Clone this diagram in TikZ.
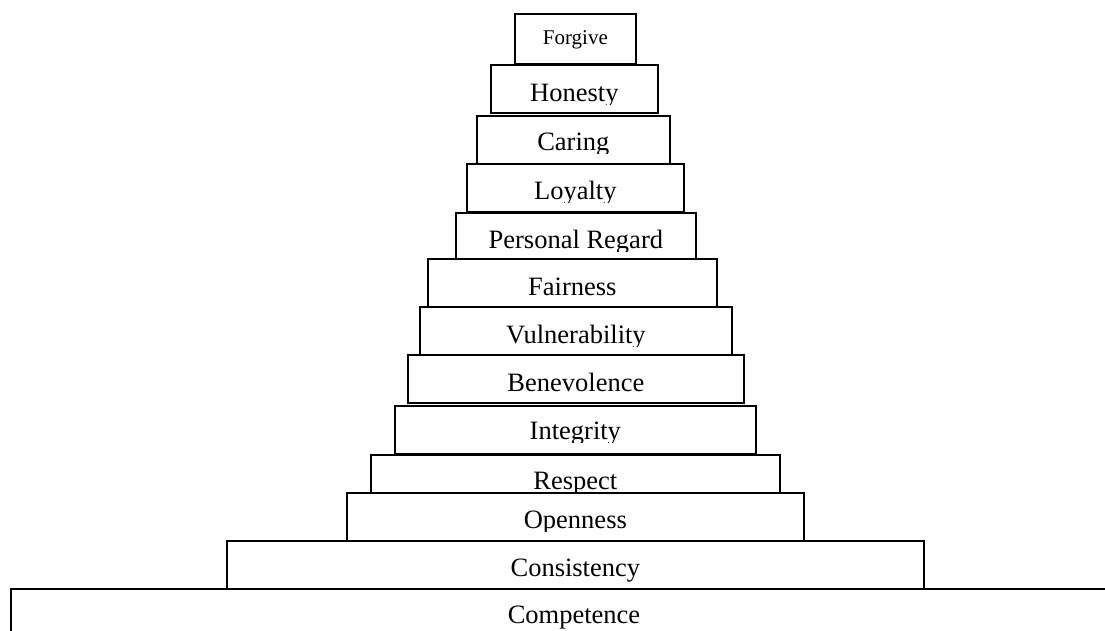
\documentclass[tikz,border=0pt]{standalone}
\usepackage{fontspec}
\setmainfont{Liberation Serif}
\usepackage{tikz}
\usetikzlibrary{positioning}
\tikzset{
  tier/.style={rectangle, draw=black, fill=white, line width=1.7pt,
               inner sep=0pt, anchor=north west},
  tiertext/.style={anchor=base, inner sep=0pt,
                   font=\fontsize{26.5}{30}\selectfont},
  toptext/.style={anchor=base, inner sep=0pt,
                  font=\fontsize{21}{25}\selectfont}
}
% label whose descenders are cut just below the baseline
\newcommand\cutlabel[4]{%
  \begin{scope}
    \clip ([yshift={(#3-2.5)*1pt}]#2.south west) rectangle (#2.north east);
    \node[tiertext] (#1) at ([yshift=#3pt]#2.south) {#4};
  \end{scope}}

\begin{document}
\begin{tikzpicture}[x=1pt, y=-1pt]
\useasboundingbox (0,0) rectangle (1105,631);
\clip (0,0) rectangle (1105,631);
% tiers, from the top down
\node[tier, minimum width=121pt, minimum height=50pt] (forgive) at (514,13) {};
\node[toptext] (forgive-txt) at ([yshift=20pt]forgive.south) {Forgive};
\node[tier, minimum width=167pt, minimum height=48pt] (honesty) at (490,64) {};
\cutlabel{honesty-txt}{honesty}{12}{Honesty}
\node[tier, minimum width=193pt, minimum height=48pt] (caring) at (476,115) {};
\cutlabel{caring-txt}{caring}{14}{Caring}
\node[tier, minimum width=217pt, minimum height=48pt] (loyalty) at (466,163) {};
\cutlabel{loyalty-txt}{loyalty}{13}{Loyalty}
\node[tier, minimum width=240pt, minimum height=46pt] (regard) at (455,212) {};
\cutlabel{regard-txt}{regard}{11}{Personal Regard}
\node[tier, minimum width=289pt, minimum height=48pt] (fairness) at (427,258) {};
\node[tiertext] (fairness-txt) at ([yshift=12pt]fairness.south) {Fairness};
\node[tier, minimum width=312pt, minimum height=48pt] (vulner) at (419,306) {};
\cutlabel{vulner-txt}{vulner}{12}{Vulnerability}
\node[tier, minimum width=336pt, minimum height=48pt] (benev) at (407,354) {};
\node[tiertext] (benev-txt) at ([yshift=12pt]benev.south) {Benevolence};
\node[tier, minimum width=361pt, minimum height=48pt] (integrity) at (394,405) {};
\cutlabel{integrity-txt}{integrity}{15}{Integrity}
\node[tier, minimum width=409pt, minimum height=38pt] (respect) at (370,454) {};
\cutlabel{respect-txt}{respect}{4}{Respect}
\node[tier, minimum width=457pt, minimum height=48pt] (openness) at (346,492) {};
\cutlabel{openness-txt}{openness}{13}{Openness}
\node[tier, minimum width=697pt, minimum height=48pt] (consist) at (226,540) {};
\node[tiertext] (consist-txt) at ([yshift=13pt]consist.south) {Consistency};
% base tier runs off the page
\node[tier, minimum width=1130pt, minimum height=80pt] (compet) at (10,588) {};
\node[tiertext] (compet-txt) at (574,623) {Competence};
\end{tikzpicture}
\end{document}
